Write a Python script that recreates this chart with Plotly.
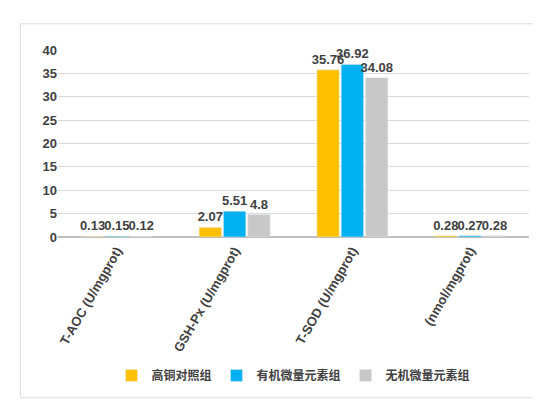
import plotly.graph_objects as go

categories = ["T-AOC (U/mgprot)", "GSH-Px (U/mgprot)", "T-SOD (U/mgprot)", "(nmol/mgprot)"]
series_names = ["高铜对照组", "有机微量元素组", "无机微量元素组"]
high_cu = [0.13, 2.07, 35.76, 0.28]
organic = [0.15, 5.51, 36.92, 0.27]
inorganic = [0.12, 4.8, 34.08, 0.28]
colors = ["#FFC000", "#00B0F0", "#C8C8C8"]

fig = go.Figure()
for name, vals, c in zip(series_names, [high_cu, organic, inorganic], colors):
    fig.add_trace(go.Bar(
        x=categories, y=vals, name=name, marker_color=c,
        text=[str(v) for v in vals], textposition="outside",
        textfont=dict(size=13, color="#404040", family="Liberation Sans", weight="bold"),
        constraintext="none", cliponaxis=False,
    ))

fig.update_layout(
    width=541, height=407,
    paper_bgcolor="white", plot_bgcolor="white",
    font=dict(family="Liberation Sans", color="#404040"),
    barmode="group", bargap=0.38, bargroupgap=0.08,
    margin=dict(l=50, r=20, t=42, b=178),
    legend=dict(orientation="h", x=0.5, xanchor="center", y=-0.74, yanchor="middle",
                font=dict(size=12, family="Noto Sans CJK SC", color="#404040", weight="bold"),
                itemwidth=30, tracegroupgap=0),
    uniformtext=dict(minsize=13, mode="show"),
    shapes=[dict(type="rect", xref="paper", yref="paper", x0=-0.08, x1=1.03, y0=-0.86, y1=1.14,
                 line=dict(color="#D9D9D9", width=1))],
)
fig.update_yaxes(range=[0, 40], dtick=5, showgrid=True, gridcolor="#D9D9D9",
                 tickfont=dict(size=13, color="#404040", weight="bold"),
                 zeroline=True, zerolinecolor="#BFBFBF")
fig.update_xaxes(tickangle=-60, tickfont=dict(size=13, color="#404040", weight="bold"),
                 showline=True, linecolor="#BFBFBF")

fig.write_html("out.html")
